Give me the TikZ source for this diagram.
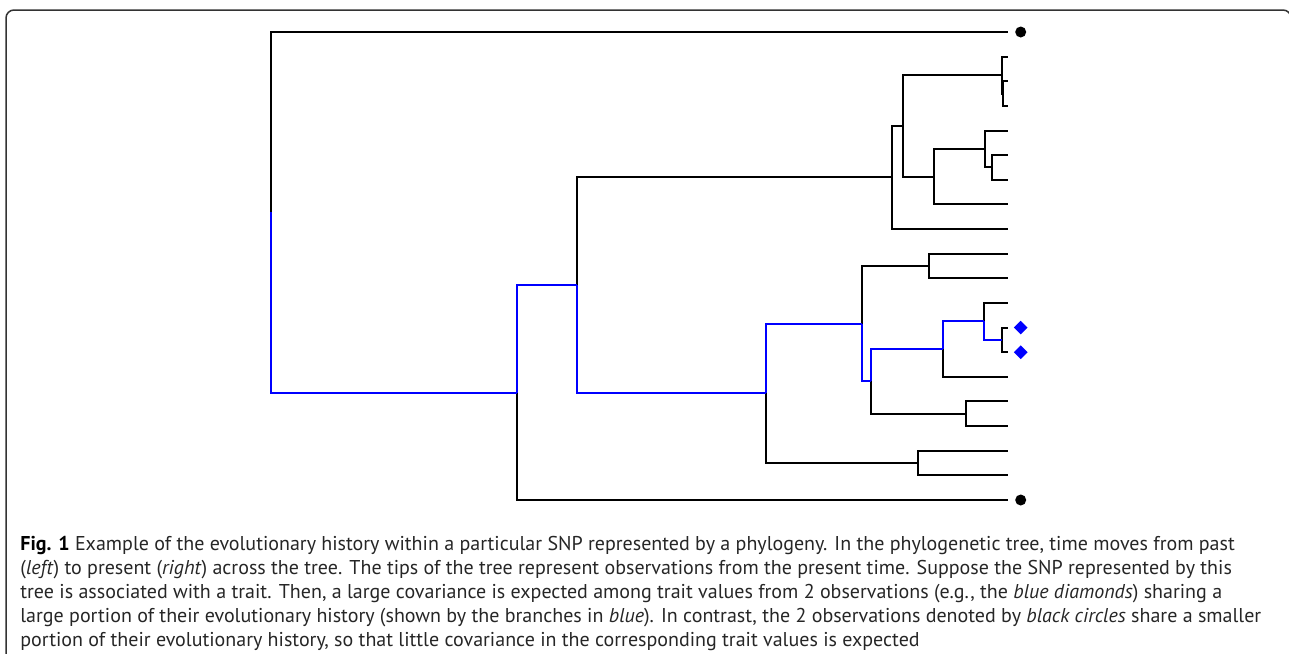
\documentclass[tikz,border=0pt]{standalone}
\usepackage{fontspec}
\setmainfont{PT Sans}
\usetikzlibrary{shapes.geometric}
\tikzstyle{branch} = [draw=black, line width=1pt]
\tikzstyle{shared} = [draw=blue, line width=1pt]
\tikzstyle{tip_circle} = [circle, fill=black, inner sep=0pt, minimum size=5.5pt]
\tikzstyle{tip_diamond} = [diamond, fill=blue, inner sep=0pt, minimum width=7pt, minimum height=7pt, aspect=1]
\tikzstyle{frame} = [draw=black!80, line width=0.75pt, rounded corners=4pt]
\tikzstyle{caption} = [inner sep=0pt, align=left, anchor=north west, text=black!85, font=\fontsize{10}{12}\selectfont]

\begin{document}
\begin{tikzpicture}[x=0.5pt, y=-0.5pt]
            \useasboundingbox (0,0) rectangle (1289,653);
            \draw [frame] (6,10) rectangle (1291,670);

            % Tips
            \coordinate (t0) at (1008, 32.00);
            \coordinate (t1) at (1008, 56.63);
            \coordinate (t2) at (1008, 81.26);
            \coordinate (t3) at (1008, 105.89);
            \coordinate (t4) at (1008, 130.53);
            \coordinate (t5) at (1008, 155.16);
            \coordinate (t6) at (1008, 179.79);
            \coordinate (t7) at (1008, 204.42);
            \coordinate (t8) at (1008, 229.05);
            \coordinate (t9) at (1008, 253.68);
            \coordinate (t10) at (1008, 278.32);
            \coordinate (t11) at (1008, 302.95);
            \coordinate (t12) at (1008, 327.58);
            \coordinate (t13) at (1008, 352.21);
            \coordinate (t14) at (1008, 376.84);
            \coordinate (t15) at (1008, 401.47);
            \coordinate (t16) at (1008, 426.11);
            \coordinate (t17) at (1008, 450.74);
            \coordinate (t18) at (1008, 475.37);
            \coordinate (t19) at (1008, 500.00);

            % Ancestors
            \coordinate (root) at (271.0, 212.36);
            \coordinate (na) at (516.7, 392.72);
            \coordinate (nb) at (576.7, 285.43);
            \coordinate (nc) at (891.7, 177.48);
            \coordinate (ne) at (903.3, 125.91);
            \coordinate (nf) at (1001.7, 75.10);
            \coordinate (ng) at (1003.3, 93.58);
            \coordinate (nh) at (934.3, 176.71);
            \coordinate (ni) at (985.0, 149.00);
            \coordinate (nj) at (991.7, 167.47);
            \coordinate (nd) at (766.0, 393.39);
            \coordinate (nk) at (861.7, 323.73);
            \coordinate (nm) at (929.3, 266.00);
            \coordinate (nn) at (871.0, 381.46);
            \coordinate (no) at (942.7, 349.13);
            \coordinate (nq) at (984.3, 321.42);
            \coordinate (nr) at (1001.7, 339.89);
            \coordinate (np) at (966.0, 413.79);
            \coordinate (nl) at (918.3, 463.05);

            % Draw branches
            % Black
            \path [branch] (root) |- (t0);
            \path [branch] (na) |- (t19);
            \path [branch] (nb) |- (nc);
            \path [branch] (nc) |- (ne);
            \path [branch] (nc) |- (t8);
            \path [branch] (ne) |- (nf);
            \path [branch] (ne) |- (nh);
            \path [branch] (nf) |- (t1);
            \path [branch] (nf) |- (ng);
            \path [branch] (ng) |- (t2);
            \path [branch] (ng) |- (t3);
            \path [branch] (nh) |- (ni);
            \path [branch] (nh) |- (t7);
            \path [branch] (ni) |- (t4);
            \path [branch] (ni) |- (nj);
            \path [branch] (nj) |- (t5);
            \path [branch] (nj) |- (t6);
            \path [branch] (nd) |- (nl);
            \path [branch] (nl) |- (t17);
            \path [branch] (nl) |- (t18);
            \path [branch] (nk) |- (nm);
            \path [branch] (nm) |- (t9);
            \path [branch] (nm) |- (t10);
            \path [branch] (nn) |- (np);
            \path [branch] (np) |- (t15);
            \path [branch] (np) |- (t16);
            \path [branch] (no) |- (t14);
            \path [branch] (nq) |- (t11);
            \path [branch] (nr) |- (t12);
            \path [branch] (nr) |- (t13);

            % Blue
            \path [shared] (root) |- (na);
            \path [shared] (na) |- (nb);
            \path [shared] (nb) |- (nd);
            \path [shared] (nd) |- (nk);
            \path [shared] (nk) |- (nn);
            \path [shared] (nn) |- (no);
            \path [shared] (no) |- (nq);
            \path [shared] (nq) |- (nr);

            % Tip marks
            \node (c1) [tip_circle] at ([xshift=6.35pt]t0) {};
            \node (c2) [tip_circle] at ([xshift=6.35pt]t19) {};
            \node (d1) [tip_diamond] at ([xshift=6.35pt]t12) {};
            \node (d2) [tip_diamond] at ([xshift=6.35pt]t13) {};

            % Caption
            \node (cap) [caption] at (20, 536) {\textbf{\color{black}Fig. 1} Example of the evolutionary history within a particular SNP represented by a phylogeny. In the phylogenetic tree, time moves from past\\
            (\textit{left}) to present (\textit{right}) across the tree. The tips of the tree represent observations from the present time. Suppose the SNP represented by this\\
            tree is associated with a trait. Then, a large covariance is expected among trait values from 2 observations (e.g., the \textit{blue diamonds}) sharing a\\
            large portion of their evolutionary history (shown by the branches in \textit{blue}). In contrast, the 2 observations denoted by \textit{black circles} share a smaller\\
            portion of their evolutionary history, so that little covariance in the corresponding trait values is expected};
\end{tikzpicture}
\end{document}
